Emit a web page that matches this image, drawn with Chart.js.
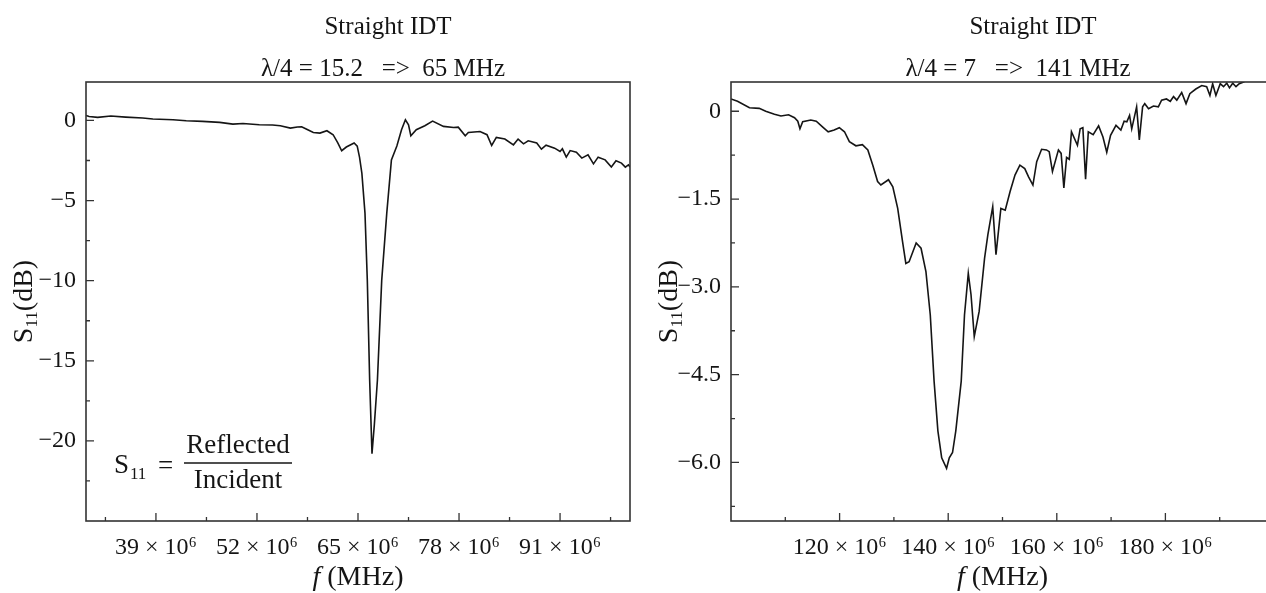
<!DOCTYPE html>
<html>
<head>
<meta charset="utf-8">
<title>Straight IDT S11</title>
<script src="https://cdn.jsdelivr.net/npm/chart.js@4.4.1/dist/chart.umd.min.js"></script>
<style>
    html, body { margin: 0; padding: 0; background: #fff; overflow: hidden; }
    body { width: 1266px; height: 593px; position: relative; }
    canvas { position: absolute; top: 0; }
    #leftChart { left: 0; width: 640px; height: 593px; }
    #rightChart { left: 640px; width: 650px; height: 593px; }
</style>
</head>
<body>
<canvas id="leftChart" width="640" height="593"></canvas>
<canvas id="rightChart" width="650" height="593"></canvas>
<script>
// ---- Left panel: lambda/4 = 15.2 (65 MHz) ----
const leftFreq = [
    30.0, 30.4, 31.5, 33.2, 35.1, 37.3, 38.6, 41.2, 42.9, 45.0,
    47.2, 48.9, 50.2, 52.3, 54.0, 55.0, 56.3, 57.2, 57.75, 58.4,
    59.25, 60.1, 61.0, 61.8, 62.4, 62.9, 63.5, 64.5, 64.9, 65.2,
    65.5, 65.9, 66.2, 66.5, 66.8, 67.1, 67.5, 68.05, 68.7, 69.3,
    70.0, 70.6, 71.1, 71.5, 71.8, 72.5, 73.6, 74.6, 76.0, 77.3,
    77.9, 78.8, 79.2, 80.7, 81.6, 82.2, 82.8, 83.9, 85.0, 85.6,
    86.3, 86.9, 88.0, 88.6, 89.2, 90.3, 91.0, 91.3, 91.8, 92.3,
    93.1, 93.8, 94.6, 95.3, 95.9, 96.8, 97.6, 98.2, 98.9, 99.4,
    99.8, 100.0
];
const leftS11 = [
    0.31, 0.25, 0.19, 0.28, 0.21, 0.15, 0.09, 0.04, -0.02, -0.06,
    -0.12, -0.23, -0.19, -0.27, -0.28, -0.33, -0.48, -0.41, -0.39, -0.55,
    -0.75, -0.79, -0.64, -0.89, -1.4, -1.89, -1.66, -1.41, -1.6, -2.3,
    -3.3, -5.8, -10.0, -16.2, -20.8, -19.0, -16.2, -10.0, -5.8, -2.46,
    -1.6, -0.58, 0.04, -0.27, -0.96, -0.58, -0.33, -0.04, -0.37, -0.44,
    -0.42, -0.96, -0.75, -0.69, -0.89, -1.56, -1.06, -1.16, -1.52, -1.16,
    -1.46, -1.27, -1.41, -1.79, -1.54, -1.73, -1.94, -1.77, -2.29, -1.88,
    -1.98, -2.35, -2.14, -2.71, -2.29, -2.46, -2.91, -2.52, -2.66, -2.91,
    -2.77, -2.91
];
const leftXTicks = [39, 52, 65, 78, 91];
const leftXLabels = ['39 × 10⁶', '52 × 10⁶', '65 × 10⁶', '78 × 10⁶', '91 × 10⁶'];
const leftXMinor = [32.5, 45.5, 58.5, 71.5, 84.5, 97.5];
const leftYTicks = [-20, -15, -10, -5, 0];
const leftYLabels = ['−20', '−15', '−10', '−5', '0'];
const leftYMinor = [-22.5, -17.5, -12.5, -7.5, -2.5];
const leftTitle = ['Straight IDT', 'λ/4 = 15.2   =>  65 MHz'];

// ---- Right panel: lambda/4 = 7 (141 MHz) ----
const rightFreq = [
    100.0, 101.2, 103.4, 105.2, 106.4, 108.0, 109.2, 110.6, 111.7, 112.3,
    112.7, 113.2, 114.7, 115.7, 116.9, 117.9, 119.0, 119.95, 120.9, 121.8,
    123.0, 124.2, 125.2, 126.1, 127.0, 127.6, 129.0, 129.8, 130.7, 131.6,
    132.2, 132.8, 134.1, 135.0, 135.9, 136.7, 137.4, 138.1, 138.8, 139.7,
    140.2, 140.8, 141.4, 142.4, 143.0, 143.7, 144.2, 144.8, 145.7, 146.7,
    147.3, 148.2, 148.8, 149.7, 150.5, 151.4, 152.3, 153.2, 154.1, 154.8,
    155.6, 156.3, 157.2, 158.1, 158.6, 159.2, 160.3, 160.8, 161.3, 161.8,
    162.3, 162.7, 163.8, 164.3, 164.8, 165.3, 165.8, 166.7, 167.7, 168.5,
    169.2, 169.9, 170.9, 171.8, 172.4, 172.9, 173.4, 173.8, 174.7, 175.2,
    175.8, 176.2, 176.9, 177.8, 178.7, 179.3, 180.2, 180.9, 181.5, 182.1,
    183.0, 183.8, 184.5, 185.6, 186.7, 187.6, 188.2, 188.7, 189.3, 190.1,
    190.7, 191.3, 191.8, 192.4, 193.0, 193.6, 194.4, 195.5, 197.0
];
const rightS11 = [
    0.21, 0.17, 0.06, 0.05, 0.0, -0.05, -0.08, -0.06, -0.11, -0.17,
    -0.30, -0.18, -0.15, -0.17, -0.27, -0.35, -0.32, -0.28, -0.35, -0.52,
    -0.59, -0.57, -0.66, -0.92, -1.20, -1.26, -1.17, -1.29, -1.66, -2.23,
    -2.60, -2.57, -2.25, -2.34, -2.74, -3.48, -4.61, -5.46, -5.92, -6.10,
    -5.92, -5.83, -5.46, -4.61, -3.48, -2.77, -3.13, -3.85, -3.42, -2.51,
    -2.11, -1.63, -2.45, -1.66, -1.69, -1.37, -1.09, -0.92, -0.98, -1.12,
    -1.26, -0.86, -0.65, -0.66, -0.69, -1.03, -0.66, -0.72, -1.31, -0.79,
    -0.82, -0.35, -0.58, -0.30, -0.28, -1.16, -0.35, -0.40, -0.25, -0.44,
    -0.70, -0.41, -0.24, -0.32, -0.17, -0.18, -0.07, -0.30, 0.075, -0.49,
    0.075, 0.13, 0.045, 0.09, 0.075, 0.19, 0.21, 0.17, 0.25, 0.19,
    0.32, 0.13, 0.30, 0.38, 0.44, 0.42, 0.27, 0.47, 0.27, 0.47,
    0.42, 0.48, 0.40, 0.48, 0.42, 0.47, 0.50, 0.56, 0.60
];
const rightXTicks = [120, 140, 160, 180];
const rightXLabels = ['120 × 10⁶', '140 × 10⁶', '160 × 10⁶', '180 × 10⁶'];
const rightXMinor = [110, 130, 150, 170, 190];
const rightYTicks = [-6, -4.5, -3, -1.5, 0];
const rightYLabels = ['−6.0', '−4.5', '−3.0', '−1.5', '0'];
const rightYMinor = [-6.75, -5.25, -3.75, -2.25, -0.75];
const rightTitle = ['Straight IDT', 'λ/4 = 7   =>  141 MHz'];

const FONT = "'Liberation Serif', 'Times New Roman', serif";
const INK = '#151515';

/**
 * Frame, inward tick marks, titles and axis labels
 */
const axisDecor = {
    id: 'axisDecor',
    afterDraw(chart, args, opts) {
        const ctx = chart.ctx;
        const a = chart.chartArea;
        const xs = chart.scales.x;
        const ys = chart.scales.y;
        ctx.save();

        // box round the plot
        ctx.strokeStyle = '#333';
        ctx.lineWidth = 1.6;
        ctx.strokeRect(a.left, a.top, a.right - a.left, a.bottom - a.top);

        // tick marks point into the plot
        ctx.lineWidth = 1.3;
        ctx.beginPath();
        opts.xMajor.forEach(v => { const p = xs.getPixelForValue(v); ctx.moveTo(p, a.bottom); ctx.lineTo(p, a.bottom - 8); });
        opts.xMinor.forEach(v => { const p = xs.getPixelForValue(v); ctx.moveTo(p, a.bottom); ctx.lineTo(p, a.bottom - 4); });
        opts.yMajor.forEach(v => { const p = ys.getPixelForValue(v); ctx.moveTo(a.left, p); ctx.lineTo(a.left + 8, p); });
        opts.yMinor.forEach(v => { const p = ys.getPixelForValue(v); ctx.moveTo(a.left, p); ctx.lineTo(a.left + 4, p); });
        ctx.stroke();

        // titles
        ctx.fillStyle = INK;
        ctx.textAlign = 'center';
        ctx.textBaseline = 'alphabetic';
        ctx.font = '25px ' + FONT;
        ctx.fillText(opts.title[0], opts.titleX[0], 34);
        ctx.fillText(opts.title[1], opts.titleX[1], 76);

        // x axis title: italic f (MHz)
        ctx.textAlign = 'left';
        const fFont = 'italic 28px ' + FONT;
        const mFont = '28px ' + FONT;
        ctx.font = fFont;
        const wf = ctx.measureText('f').width;
        ctx.font = mFont;
        const wm = ctx.measureText(' (MHz)').width;
        const cx = (a.left + a.right) / 2;
        let x0 = cx - (wf + wm) / 2;
        ctx.font = fFont;
        ctx.fillText('f', x0, 585);
        ctx.font = mFont;
        ctx.fillText(' (MHz)', x0 + wf, 585);

        // y axis title: S11(dB), rotated
        ctx.save();
        ctx.translate(opts.yTitleX, (a.top + a.bottom) / 2);
        ctx.rotate(-Math.PI / 2);
        const bigFont = '28px ' + FONT;
        const subFont = '17px ' + FONT;
        ctx.font = bigFont;
        const wS = ctx.measureText('S').width;
        const wdB = ctx.measureText('(dB)').width;
        ctx.font = subFont;
        const w11 = ctx.measureText('11').width;
        let ty = -(wS + w11 + wdB) / 2;
        ctx.font = bigFont;
        ctx.fillText('S', ty, 9);
        ctx.font = subFont;
        ctx.fillText('11', ty + wS, 14);
        ctx.font = bigFont;
        ctx.fillText('(dB)', ty + wS + w11, 9);
        ctx.restore();

        // S11 = Reflected / Incident
        if (opts.formula) {
            ctx.font = '27px ' + FONT;
            ctx.fillText('S', 114, 473);
            ctx.font = '17px ' + FONT;
            ctx.fillText('11', 130, 479);
            ctx.font = '27px ' + FONT;
            ctx.fillText('=', 158, 474);
            ctx.textAlign = 'center';
            ctx.fillText('Reflected', 238, 453);
            ctx.fillText('Incident', 238, 488);
            ctx.lineWidth = 1.5;
            ctx.strokeStyle = INK;
            ctx.beginPath();
            ctx.moveTo(184, 463);
            ctx.lineTo(292, 463);
            ctx.stroke();
        }
        ctx.restore();
    }
};

function makeChart(canvasId, cfg) {
    const points = cfg.freq.map((f, i) => ({ x: f, y: cfg.s11[i] }));
    const ctx = document.getElementById(canvasId).getContext('2d');
    return new Chart(ctx, {
        type: 'line',
        data: {
            datasets: [{
                data: points,
                borderColor: INK,
                borderWidth: 1.6,
                pointRadius: 0,
                fill: false,
                tension: 0
            }]
        },
        options: {
            responsive: false,
            animation: false,
            layout: { padding: { top: 82, right: cfg.padRight, left: 0, bottom: 0 } },
            plugins: {
                legend: { display: false },
                tooltip: { enabled: false },
                axisDecor: {
                    xMajor: cfg.xTicks, xMinor: cfg.xMinor,
                    yMajor: cfg.yTicks, yMinor: cfg.yMinor,
                    title: cfg.title, titleX: cfg.titleX,
                    yTitleX: cfg.yTitleX, formula: cfg.formula
                }
            },
            scales: {
                x: {
                    type: 'linear',
                    min: cfg.xMin,
                    max: cfg.xMax,
                    afterBuildTicks: s => { s.ticks = cfg.xTicks.map(v => ({ value: v })); },
                    afterFit: s => { s.height = 72; },
                    grid: { display: false, drawTicks: false },
                    border: { display: false },
                    ticks: {
                        autoSkip: false,
                        maxRotation: 0,
                        padding: 12,
                        color: INK,
                        font: { family: FONT, size: 24 },
                        callback: (v, i) => cfg.xLabels[i]
                    }
                },
                y: {
                    min: cfg.yMin,
                    max: cfg.yMax,
                    afterBuildTicks: s => { s.ticks = cfg.yTicks.map(v => ({ value: v })); },
                    afterFit: s => { s.width = cfg.yWidth; },
                    grid: { display: false, drawTicks: false },
                    border: { display: false },
                    ticks: {
                        padding: 10,
                        color: INK,
                        font: { family: FONT, size: 24 },
                        callback: (v, i) => cfg.yLabels[i]
                    }
                }
            }
        },
        plugins: [axisDecor]
    });
}

makeChart('leftChart', {
    freq: leftFreq, s11: leftS11,
    xMin: 30, xMax: 100, yMin: -25, yMax: 2.4,
    xTicks: leftXTicks, xLabels: leftXLabels, xMinor: leftXMinor,
    yTicks: leftYTicks, yLabels: leftYLabels, yMinor: leftYMinor,
    title: leftTitle, titleX: [388, 383],
    yWidth: 86, padRight: 10, yTitleX: 23, formula: true
});

makeChart('rightChart', {
    freq: rightFreq, s11: rightS11,
    xMin: 100, xMax: 200, yMin: -7, yMax: 0.5,
    xTicks: rightXTicks, xLabels: rightXLabels, xMinor: rightXMinor,
    yTicks: rightYTicks, yLabels: rightYLabels, yMinor: rightYMinor,
    title: rightTitle, titleX: [393, 378],
    yWidth: 91, padRight: 16, yTitleX: 28, formula: false
});
</script>
</body>
</html>
